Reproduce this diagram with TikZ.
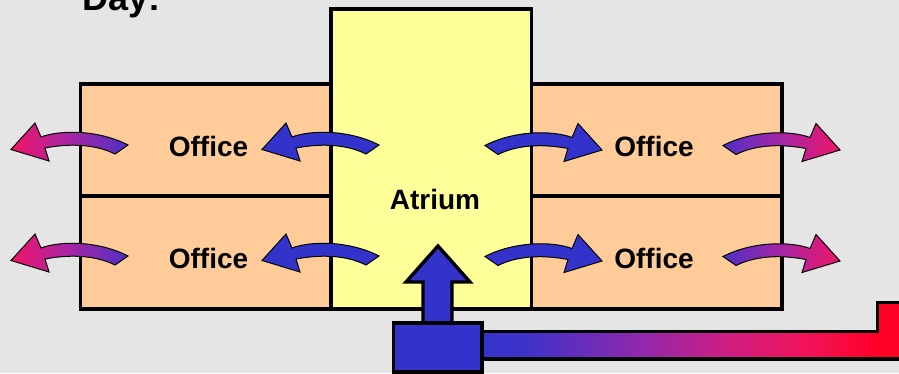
\documentclass[tikz,border=0pt]{standalone}
\usepackage{fontspec}
\setmainfont{Liberation Sans}
\definecolor{bgc}{RGB}{229,229,229}
\definecolor{officec}{RGB}{255,204,153}
\definecolor{atriumc}{RGB}{255,255,153}
\definecolor{blueb}{RGB}{51,51,204}
\definecolor{redr}{RGB}{255,0,38}
\definecolor{tipc}{RGB}{240,22,105}
\definecolor{midc}{RGB}{165,38,165}
\definecolor{tailc}{RGB}{78,48,196}
\definecolor{pa}{RGB}{60,50,202}
\definecolor{pb}{RGB}{145,40,172}
\definecolor{pc}{RGB}{205,30,130}
\definecolor{pd}{RGB}{240,20,90}
\pgfdeclarehorizontalshading{pipeshade}{100bp}{color(0bp)=(blueb); color(25bp)=(blueb); color(30bp)=(pa); color(44bp)=(pb); color(54bp)=(pc); color(63bp)=(pd); color(72bp)=(redr); color(100bp)=(redr)}
\newcommand{\bentarrow}{(0,0) -- (24,-26.5) -- (30,-12.5) .. controls (50,-20) and (88,-19.5) .. (117,-4.5) -- (104,4.5) .. controls (82,-6.5) and (55,-5.5) .. (34,-1.5) -- (38,11.5) -- cycle}
\tikzset{
  room/.style={draw=black,line width=3.4pt,line join=miter},
  lbl/.style={font=\bfseries\fontsize{28}{30}\selectfont,inner sep=0pt,anchor=base},
  inarrow/.style={draw=black,line width=1pt,line join=miter,fill=blueb},
  outleft/.style={draw=black,line width=1pt,line join=miter,left color=tipc,right color=tailc,middle color=midc},
  outright/.style={draw=black,line width=1pt,line join=miter,left color=tailc,right color=tipc,middle color=midc},
  plant/.style={draw=black,line width=3.4pt,line join=miter,fill=blueb}
}
\begin{document}
\begin{tikzpicture}[x=1pt,y=-1pt]
\useasboundingbox (0,0) rectangle (899,373);
\clip (0,0) rectangle (899,373);
\fill[bgc] (0,0) rectangle (899,373);
\node[font=\bfseries\fontsize{36}{38}\selectfont,inner sep=0pt,anchor=base west] (day) at (82,10.5) {Day:};
\draw[room,fill=officec] (80.5,84) rectangle (331,196);
\draw[room,fill=officec] (80.5,196) rectangle (331,309);
\draw[room,fill=officec] (531.5,84) rectangle (782,196);
\draw[room,fill=officec] (531.5,196) rectangle (782,309);
\draw[room,fill=atriumc] (331,9) rectangle (531.5,309);
\node[lbl] (o1) at (208.5,156) {Office};
\node[lbl] (o2) at (654,156) {Office};
\node[lbl] (o3) at (208.5,268) {Office};
\node[lbl] (o4) at (654,268) {Office};
\node[lbl] (atrium) at (435,209) {Atrium};
\draw[outleft,shift={(11,149.5)}] \bentarrow;
\draw[outleft,shift={(11,260.5)}] \bentarrow;
\draw[outright,shift={(840,150)},xscale=-1] \bentarrow;
\draw[outright,shift={(840,261)},xscale=-1] \bentarrow;
\draw[inarrow,shift={(262,149.5)}] \bentarrow;
\draw[inarrow,shift={(262,260.5)}] \bentarrow;
\draw[inarrow,shift={(602,150)},xscale=-1] \bentarrow;
\draw[inarrow,shift={(602,261)},xscale=-1] \bentarrow;
\draw[plant] (423,324) -- (423,282) -- (406,282) -- (438,246) -- (470,282) -- (452,282) -- (452,324) -- cycle;
\draw[draw=black,line width=3.4pt,line join=miter,shading=pipeshade] (480,331.5) -- (877.5,331.5) -- (877.5,302.5) -- (905,302.5) -- (905,359) -- (480,359) -- cycle;
\draw[plant] (393.5,323) rectangle (482,372);
\end{tikzpicture}
\end{document}
